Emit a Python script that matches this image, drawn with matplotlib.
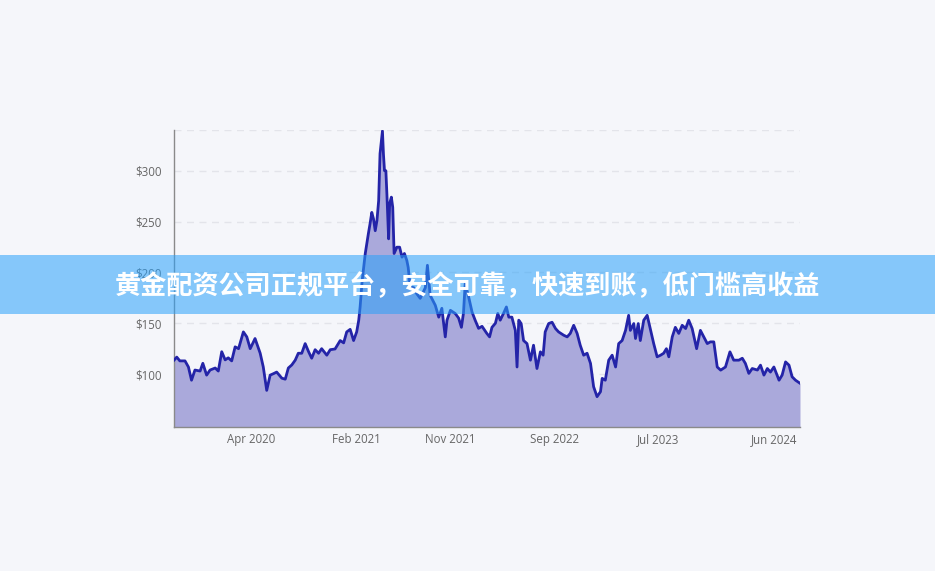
'''
Gráfico de área do preço com faixa de anúncio por cima.
'''

# Importando bibliotecas
##################################################################
import matplotlib
matplotlib.use("Agg")
import matplotlib.pyplot as plt
from matplotlib.patches import Rectangle
import numpy as np

# Dados
##################################################################
start_date = "2019-08-20"

# dias desde start_date
day_offset = [
    0, 8, 17, 32, 42, 51, 61, 76, 84, 95, 105, 120, 129, 139, 149, 158, 168,
    178, 188, 202, 212, 222, 236, 251, 260, 270, 280, 290, 299, 314, 324, 333,
    343, 353, 362, 372, 382, 392, 401, 411, 421, 430, 445, 455, 469, 484, 494,
    503, 513, 523, 532, 538, 542, 548, 557, 566, 571, 576, 581, 586, 591, 596,
    600, 603, 607, 610, 613, 617, 620, 625, 628, 633, 637, 641, 649, 657, 664,
    671, 678, 682, 688, 698, 707, 717, 732, 738, 746, 761, 771, 780, 790, 795,
    805, 819, 829, 837, 843, 848, 858, 868, 877, 887, 897, 911, 919, 926, 936,
    943, 950, 960, 968, 975, 984, 994, 999, 1004, 1011, 1018, 1028, 1038,
    1047, 1057, 1067, 1075, 1081, 1091, 1101, 1111, 1120, 1135, 1145, 1154,
    1164, 1174, 1183, 1193, 1203, 1213, 1222, 1232, 1242, 1247, 1256, 1266,
    1276, 1286, 1295, 1305, 1315, 1324, 1329, 1339, 1344, 1352, 1358, 1368,
    1378, 1388, 1397, 1407, 1417, 1426, 1434, 1441, 1451, 1460, 1470, 1480,
    1490, 1499, 1509, 1522, 1533, 1543, 1553, 1562, 1572, 1582, 1592, 1606,
    1619, 1630, 1645, 1655, 1664, 1674, 1684, 1699, 1708, 1718, 1728, 1737,
    1747, 1762, 1771, 1781, 1791, 1800, 1810, 1823,
]

price = [
    113.7, 116.7, 113, 113, 107, 94, 104, 103, 110.6, 99, 104, 106, 103, 122,
    114, 116, 113, 126.8, 125, 141.5, 136.6, 125, 135, 120.5, 107, 84, 99,
    100.5, 102, 96, 95, 106, 109, 113.7, 120.5, 120.5, 130, 122, 115.6, 124,
    120.5, 125, 118.6, 124, 124.7, 133, 130.7, 141.5, 144, 133, 141.5, 153,
    166, 192, 218.6, 238, 248, 259, 252.6, 241, 251, 270.6, 316.7, 326, 339,
    316, 300, 300, 277, 233, 267.6, 274, 264, 218.6, 224.8, 224.8, 215, 218.6,
    211.8, 205, 185.6, 185, 179, 174.5, 185, 207, 177.5, 167.6, 156, 164.7,
    136.6, 153, 162.7, 159.6, 155, 146, 160, 189, 176, 161, 153, 145, 147,
    140, 136.6, 146, 150, 159.6, 153, 160, 166, 156, 156, 143, 107, 153,
    149.7, 133, 130, 113.7, 128.4, 105.5, 121.9, 118.6, 141.5, 149.7, 151,
    144.8, 141.5, 138.2, 136.6, 140, 148, 140, 128.4, 118.6, 120.5, 110.5,
    87.6, 77.8, 82.7, 95.8, 94, 113.7, 118.6, 107, 130, 133, 143, 157.8, 143,
    149.7, 135, 149.7, 133, 153, 157.8, 143, 130, 117, 118.6, 120.5, 125, 117,
    136.6, 146, 140, 148, 144.8, 153, 144.8, 125, 143, 136.6, 130, 131.7,
    131.7, 107, 103.9, 107, 121.9, 113.7, 113.7, 115.6, 110.5, 100.7, 105.5,
    104, 108.8, 99, 105.5, 102, 107, 94, 99, 112, 108.8, 97.4, 94, 91,
]

y_ticks = [100, 150, 200, 250, 300]
y_tick_labels = ["$100", "$150", "$200", "$250", "$300"]

x_tick_dates = ["2020-04-01", "2021-02-01", "2021-11-01",
                "2022-09-01", "2023-07-01", "2024-06-01"]
x_tick_labels = ["Apr 2020", "Feb 2021", "Nov 2021",
                 "Sep 2022", "Jul 2023", "Jun 2024"]

banner_text = "黄金配资公司正规平台，安全可靠，快速到账，低门槛高收益"

# Montando datas
##################################################################
datas = np.datetime64(start_date) + np.array(day_offset).astype("timedelta64[D]")
ticks = np.array(x_tick_dates, dtype="datetime64[D]")

y_min, y_max = 48, 340
fundo = "#f5f6fa"

# Plotando
##################################################################
fig = plt.figure(figsize=(9.35, 5.71), dpi=100, facecolor=fundo)
ax = fig.add_axes([0.1861, 0.2522, 0.6695, 0.5201])
ax.set_facecolor(fundo)

ax.fill_between(datas, price, y_min, color="#aaa9db", lw=0, zorder=2)
ax.plot(datas, price, color="#2424a8", lw=2, zorder=3)

ax.set_xlim(datas[0], datas[-1])
ax.set_ylim(y_min, y_max)

for v in y_ticks + [y_max]:
    ax.axhline(v, color="#e3e4ea", lw=1, ls=(0, (5, 4)), zorder=1)

ax.set_yticks(y_ticks)
ax.set_yticklabels(y_tick_labels)
ax.set_xticks(ticks)
ax.set_xticklabels(x_tick_labels)

for lbl in ax.get_xticklabels() + ax.get_yticklabels():
    lbl.set_fontfamily("Open Sans")
    lbl.set_fontsize(8.3)
    lbl.set_color("#666666")

ax.tick_params(axis="both", length=0)
ax.tick_params(axis="y", pad=9)
ax.tick_params(axis="x", pad=4.5)

for s in ["top", "right"]:
    ax.spines[s].set_visible(False)
for s in ["left", "bottom"]:
    ax.spines[s].set_color("#8a8a8a")
    ax.spines[s].set_linewidth(1)

# Faixa do anúncio
##################################################################
faixa = Rectangle((0, 1 - 314 / 571), 1, 59 / 571, transform=fig.transFigure,
                  facecolor="#29a1fa", alpha=0.55, lw=0, zorder=10)
fig.add_artist(faixa)
fig.text(0.5, 0.498, banner_text, color="white", fontsize=18.8,
         fontweight="bold", family=["Noto Sans CJK SC", "DejaVu Sans"],
         ha="center", va="center", zorder=11)

fig.savefig("out.png", dpi=100, facecolor=fundo)
